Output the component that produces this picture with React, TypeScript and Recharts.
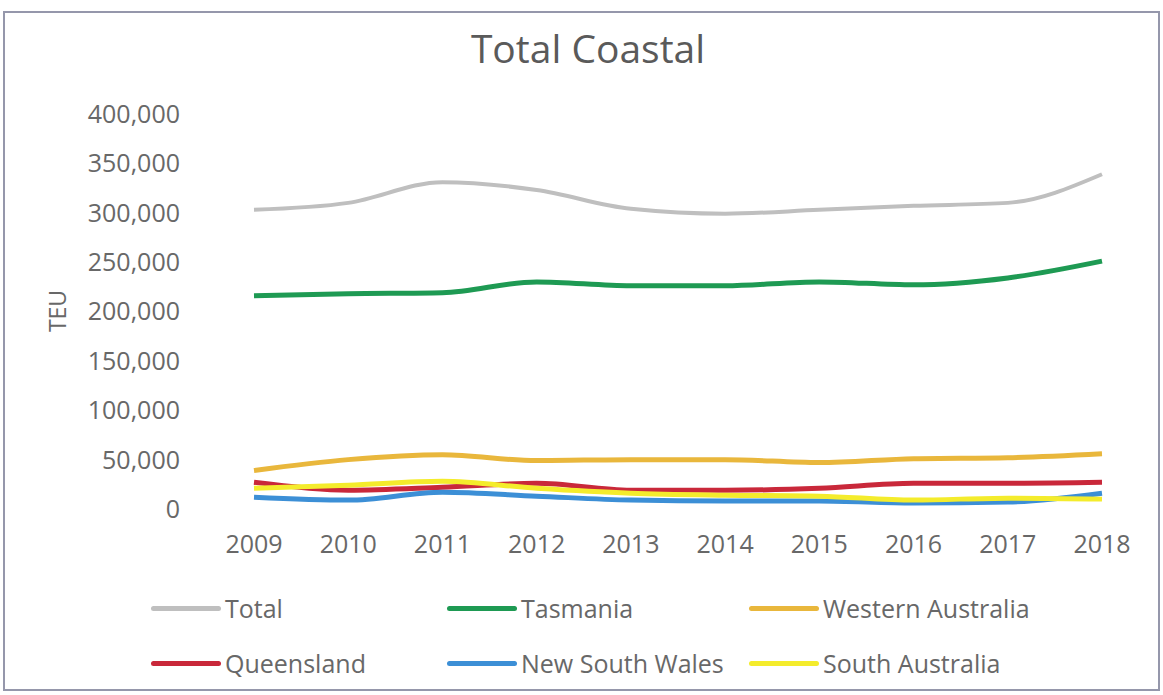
import React from 'react';
import { LineChart, Line, XAxis, YAxis, Legend } from 'recharts';

const years = ['2009', '2010', '2011', '2012', '2013', '2014', '2015', '2016', '2017', '2018'];
const total = [303000, 310000, 331000, 323000, 304000, 299000, 303000, 307000, 310000, 339000];
const tasmania = [216000, 218000, 219000, 230000, 226000, 226000, 230000, 227000, 234000, 251000];
const westernAustralia = [39000, 50000, 55000, 49000, 50000, 50000, 47000, 51000, 52000, 56000];
const queensland = [27000, 19000, 22000, 26000, 19000, 19000, 21000, 26000, 26000, 27000];
const newSouthWales = [12000, 9000, 17000, 13000, 9000, 8000, 8000, 6000, 7000, 16000];
const southAustralia = [21000, 24000, 28000, 21000, 16000, 14000, 13000, 9000, 11000, 10000];
const yTicks = [0, 50000, 100000, 150000, 200000, 250000, 300000, 350000, 400000];
const seriesNames = ['Total', 'Tasmania', 'Western Australia', 'Queensland', 'New South Wales', 'South Australia'];

const data = years.map((year, i) => ({
  year,
  total: total[i],
  tasmania: tasmania[i],
  westernAustralia: westernAustralia[i],
  queensland: queensland[i],
  newSouthWales: newSouthWales[i],
  southAustralia: southAustralia[i],
}));

const FONT = '"Open Sans", "Noto Sans", sans-serif';
const TEXT = '#686868';

const legendCols = [151, 447, 749];
const legendRows = [11, 66];

const renderLegend = (props: any) => {
  const payload = [...(props.payload || [])].sort(
    (a: any, b: any) => seriesNames.indexOf(a.value) - seriesNames.indexOf(b.value)
  );
  return (
    <div style={{ position: 'relative', width: 1163, height: 110 }}>
      {payload.map((p: any, i: number) => (
        <div
          key={p.value}
          style={{
            position: 'absolute',
            left: legendCols[i % 3],
            top: legendRows[Math.floor(i / 3)],
            display: 'flex',
            alignItems: 'center',
            height: 34,
          }}
        >
          <span style={{ display: 'inline-block', width: 70, height: 5, background: p.color, borderRadius: 3 }} />
          <span style={{ marginLeft: 4, fontSize: 25, color: TEXT, fontFamily: FONT, lineHeight: '34px', whiteSpace: 'nowrap' }}>
            {p.value}
          </span>
        </div>
      ))}
    </div>
  );
};

const fmt = (v: number) => v.toLocaleString('en-US');

export default function App() {
  return (
    <div style={{ position: 'absolute', left: 0, top: 0, width: 1163, height: 695, background: '#fff' }}>
      <div
        style={{
          position: 'absolute',
          left: 3,
          top: 11,
          width: 1153,
          height: 676,
          border: '2px solid #9597ab',
        }}
      />
      <svg width={1163} height={695} style={{ position: 'absolute', left: 0, top: 0 }}>
        <text x={588} y={63} textAnchor="middle" fontSize={39} fill="#5a5a5a" fontFamily={FONT}>
          Total Coastal
        </text>
        <text
          transform="translate(66,311) rotate(-90)"
          textAnchor="middle"
          fontSize={23}
          fill={TEXT}
          fontFamily={FONT}
        >
          TEU
        </text>
      </svg>
      <div style={{ position: 'absolute', left: 0, top: 0 }}>
        <LineChart
          width={1163}
          height={695}
          data={data}
          margin={{ top: 114, right: 61, bottom: 126, left: 0 }}
        >
          <XAxis
            dataKey="year"
            scale="point"
            padding={{ left: 0, right: 0 }}
            axisLine={false}
            tickLine={false}
            height={60}
            tickMargin={20}
            tick={{ fontSize: 25, fill: TEXT, fontFamily: FONT }}
            interval={0}
          />
          <YAxis
            width={254}
            domain={[0, 400000]}
            ticks={yTicks}
            axisLine={false}
            tickLine={false}
            tickMargin={68}
            tickFormatter={fmt}
            tick={{ fontSize: 25, fill: TEXT, fontFamily: FONT }}
            interval={0}
          />
          <Legend
            layout="horizontal"
            verticalAlign="middle"
            align="center"
            wrapperStyle={{ top: 580, left: 0, width: 1163, height: 110 }}
            content={renderLegend}
          />
          <Line type="monotone" dataKey="total" name="Total" stroke="#bfbfbf" strokeWidth={4} dot={false} isAnimationActive={false} />
          <Line type="monotone" dataKey="tasmania" name="Tasmania" stroke="#1e9a53" strokeWidth={5} dot={false} isAnimationActive={false} />
          <Line type="monotone" dataKey="westernAustralia" name="Western Australia" stroke="#e9b73c" strokeWidth={5} dot={false} isAnimationActive={false} />
          <Line type="monotone" dataKey="queensland" name="Queensland" stroke="#c9283a" strokeWidth={5} dot={false} isAnimationActive={false} />
          <Line type="monotone" dataKey="newSouthWales" name="New South Wales" stroke="#3c8fd6" strokeWidth={5} dot={false} isAnimationActive={false} />
          <Line type="monotone" dataKey="southAustralia" name="South Australia" stroke="#f4ec2c" strokeWidth={5} dot={false} isAnimationActive={false} />
        </LineChart>
      </div>
    </div>
  );
}
